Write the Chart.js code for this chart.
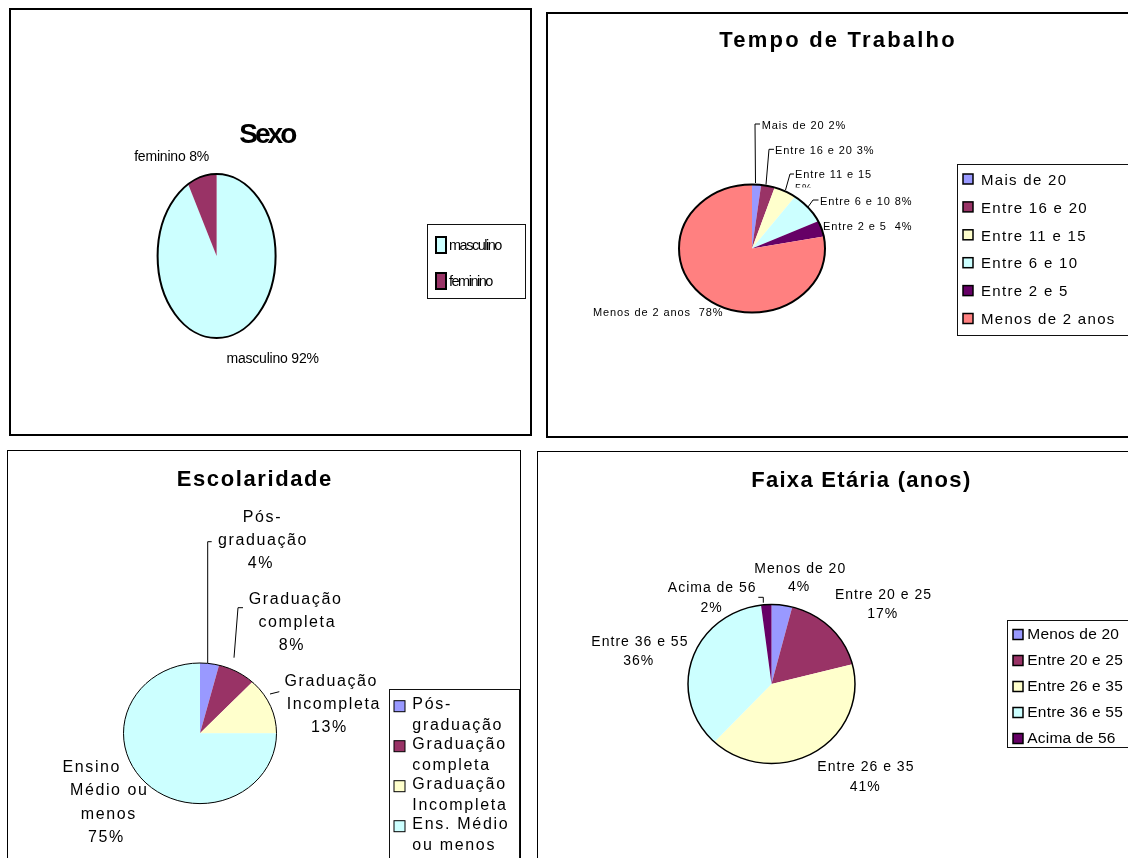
<!DOCTYPE html>
<html><head><meta charset="utf-8">
<script src="https://cdn.jsdelivr.net/npm/chart.js@4/dist/chart.umd.min.js"></script>
<style>
html,body{margin:0;padding:0;background:#fff;}
body{width:1128px;height:858px;position:relative;overflow:hidden;}
.panel{position:absolute;box-sizing:border-box;border-style:solid;border-color:#000;}
canvas{position:absolute;left:0;top:0;}
</style></head><body>
<div class="panel" style="left:9px;top:8px;width:523px;height:428px;border-width:2px"></div>
<div class="panel" style="left:546px;top:12px;width:620px;height:426px;border-width:2px"></div>
<div class="panel" style="left:7px;top:450px;width:514px;height:430px;border-width:1px"></div>
<div class="panel" style="left:537px;top:451px;width:620px;height:430px;border-width:1px"></div>
<canvas id="cSexo" width="1128" height="858"></canvas>
<canvas id="cTempo" width="1128" height="858"></canvas>
<canvas id="cEsc" width="1128" height="858"></canvas>
<canvas id="cFaixa" width="1128" height="858"></canvas>
<script>
// ---------------- DATA ----------------
const sexoCategories = ['masculino', 'feminino'];
const sexoValues = [92, 8];

const tempoCategories = ['Mais de 20', 'Entre 16 e 20', 'Entre 11 e 15', 'Entre 6 e 10', 'Entre 2 e 5', 'Menos de 2 anos'];
const tempoValues = [2, 3, 5, 8, 4, 78];

const escCategories = ['Pós-graduação', 'Graduação completa', 'Graduação Incompleta', 'Ens. Médio ou menos'];
const escSliceNames = [['Pós-', 'graduação'], ['Graduação', 'completa'], ['Graduação', 'Incompleta'], ['Ensino', 'Médio ou', 'menos']];
const escValues = [4, 8, 13, 75];

const faixaCategories = ['Menos de 20', 'Entre 20 e 25', 'Entre 26 e 35', 'Entre 36 e 55', 'Acima de 56'];
const faixaValues = [4, 17, 41, 36, 2];

// ---------------- STYLE ----------------
const C_BLUE = '#9999FF', C_PLUM = '#993366', C_YEL = '#FFFFCC', C_CYAN = '#CCFFFF', C_DPUR = '#660066', C_SAL = '#FF8080';
const sexoColors = [C_CYAN, C_PLUM];
const tempoColors = [C_BLUE, C_PLUM, C_YEL, C_CYAN, C_DPUR, C_SAL];
const escColors = [C_BLUE, C_PLUM, C_YEL, C_CYAN];
const faixaColors = [C_BLUE, C_PLUM, C_YEL, C_CYAN, C_DPUR];

const FAM = '"Liberation Sans", Arial, Helvetica, sans-serif';
const W = 1128, H = 858;
const pct = v => v + '%';

function drawText(ctx, s, x, y, size, sp, align, bold) {
  ctx.save();
  ctx.font = (bold ? 'bold ' : '') + size + 'px ' + FAM;
  ctx.fillStyle = '#000';
  ctx.textBaseline = 'alphabetic';
  ctx.textAlign = 'left';
  const hasLS = ('letterSpacing' in ctx);
  const chars = Array.from(s);
  let w, ws;
  if (hasLS) { ctx.letterSpacing = sp + 'px'; w = ctx.measureText(s).width - sp; }
  else { ws = chars.map(c => ctx.measureText(c).width); w = ws.reduce((a, b) => a + b, 0) + sp * (chars.length - 1); }
  const x0 = align === 'center' ? x - w / 2 : (align === 'right' ? x - w : x);
  if (hasLS) ctx.fillText(s, x0, y);
  else { let cx = x0; chars.forEach((c, i) => { ctx.fillText(c, cx, y); cx += ws[i] + sp; }); }
  if (hasLS) ctx.letterSpacing = '0px';
  ctx.restore();
}
function textWidth(ctx, s, size, sp) {
  ctx.save(); ctx.font = size + 'px ' + FAM;
  const w = Array.from(s).reduce((a, c) => a + ctx.measureText(c).width, 0) + sp * (s.length - 1);
  ctx.restore(); return w;
}
function wrap(ctx, s, maxW, size, sp) {
  if (!maxW) return [s];
  const toks = [];
  s.split(' ').forEach((w, i) => {
    const parts = w.split(/(?<=-)/);
    parts.forEach((p, j) => toks.push({ t: p, sep: (j === 0 && i > 0) ? ' ' : '' }));
  });
  const lines = []; let cur = '';
  toks.forEach(tk => {
    const cand = cur ? cur + tk.sep + tk.t : tk.t;
    if (cur && textWidth(ctx, cand, size, sp) > maxW) { lines.push(cur); cur = tk.t; }
    else cur = cand;
  });
  if (cur) lines.push(cur);
  return lines;
}

const ellipsePlugin = {
  id: 'ellipse',
  beforeDatasetsDraw(chart, args, o) {
    const a = chart.getDatasetMeta(0).data[0], ctx = chart.ctx;
    ctx.save(); ctx.translate(a.x, a.y); ctx.scale(o.sx, o.sy); ctx.translate(-a.x, -a.y);
  },
  afterDatasetsDraw(chart, args, o) {
    const a = chart.getDatasetMeta(0).data[0], ctx = chart.ctx;
    ctx.beginPath(); ctx.arc(a.x, a.y, a.outerRadius, 0, Math.PI * 2);
    ctx.restore();
    ctx.save(); ctx.lineWidth = o.outline; ctx.strokeStyle = '#000'; ctx.stroke(); ctx.restore();
  }
};

const annotPlugin = {
  id: 'annot',
  afterDraw(chart, args, o) {
    const ctx = chart.ctx, ds = chart.data.datasets[0];
    const t = o.title;
    drawText(ctx, t.text, t.x, t.y, t.size, t.sp, 'center', true);
    ctx.save(); ctx.strokeStyle = '#000'; ctx.lineWidth = 1;
    o.labels.forEach(l => {
      if (!l.leader) return;
      ctx.beginPath();
      l.leader.forEach((p, i) => i ? ctx.lineTo(p[0], p[1]) : ctx.moveTo(p[0], p[1]));
      ctx.stroke();
    });
    ctx.restore();
    o.labels.forEach(l => {
      l.lines.forEach((ln, j) => {
        const x = (l.xs && l.xs[j] !== undefined) ? l.xs[j] : l.x;
        const y = l.y + j * (l.lh || 0);
        if (l.clipY !== undefined && j > 0) {
          ctx.save(); ctx.beginPath(); ctx.rect(0, 0, W, l.clipY); ctx.clip();
          drawText(ctx, ln, x, y, o.labelSize, o.labelSp, l.align || 'center');
          ctx.restore();
        } else drawText(ctx, ln, x, y, o.labelSize, o.labelSp, l.align || 'center');
      });
    });
    const lg = o.legend;
    ctx.save(); ctx.strokeStyle = '#111'; ctx.lineWidth = 1;
    ctx.strokeRect(lg.x, lg.y, lg.w, lg.h); ctx.restore();
    chart.data.labels.forEach((name, i) => {
      const iy = lg.iconY + i * lg.pitch;
      ctx.save();
      ctx.fillStyle = ds.backgroundColor[i]; ctx.fillRect(lg.iconX, iy, lg.iconW, lg.iconH);
      ctx.lineWidth = lg.iconBorder; ctx.strokeStyle = '#000'; ctx.strokeRect(lg.iconX, iy, lg.iconW, lg.iconH);
      ctx.restore();
      wrap(ctx, name, lg.maxW, lg.size, lg.sp).forEach((tx, k) =>
        drawText(ctx, tx, lg.textX, lg.textY + i * lg.pitch + k * (lg.lineH || 0), lg.size, lg.sp, 'left'));
    });
  }
};

function padFor(cx, cy) {
  return {
    left: cx < W / 2 ? 0 : 2 * cx - W, right: cx < W / 2 ? W - 2 * cx : 0,
    top: cy < H / 2 ? 0 : 2 * cy - H, bottom: cy < H / 2 ? H - 2 * cy : 0
  };
}
function makePie(id, labels, values, colors, geo, annot) {
  return new Chart(document.getElementById(id), {
    type: 'pie',
    data: { labels: labels, datasets: [{ data: values, backgroundColor: colors, borderWidth: 0 }] },
    options: {
      responsive: false, animation: false, events: [], devicePixelRatio: 1,
      radius: geo.r,
      layout: { padding: padFor(geo.cx, geo.cy) },
      plugins: {
        legend: { display: false }, title: { display: false }, tooltip: { enabled: false },
        ellipse: { sx: geo.sx, sy: 1, outline: geo.outline },
        annot: annot
      }
    },
    plugins: [ellipsePlugin, annotPlugin]
  });
}

// ---- Sexo ----
makePie('cSexo', sexoCategories, sexoValues, sexoColors,
  { cx: 216.6, cy: 256, r: 82, sx: 59 / 82, outline: 2 },
  {
    title: { text: 'Sexo', x: 268.3, y: 143, size: 28, sp: -3 },
    labelSize: 14, labelSp: -0.2,
    labels: [
      { lines: [sexoCategories[1] + ' ' + pct(sexoValues[1])], x: 171.7, y: 160.7 },
      { lines: [sexoCategories[0] + ' ' + pct(sexoValues[0])], x: 272.7, y: 363.3 }
    ],
    legend: { x: 427.5, y: 224.5, w: 98, h: 74, iconX: 436, iconY: 237, iconW: 10, iconH: 16, iconBorder: 2,
      pitch: 36, textX: 449, textY: 249.5, size: 14.5, sp: -1.5 }
  });

// ---- Tempo de Trabalho ----
makePie('cTempo', tempoCategories, tempoValues, tempoColors,
  { cx: 752, cy: 248.5, r: 64, sx: 73 / 64, outline: 2 },
  {
    title: { text: 'Tempo de Trabalho', x: 837, y: 47.3, size: 22, sp: 2.2 },
    labelSize: 11, labelSp: 0.9,
    labels: [
      { lines: [tempoCategories[0] + ' ' + pct(tempoValues[0])], x: 761.7, y: 128.7, align: 'left',
        leader: [[760, 124], [755, 124], [755.5, 183]] },
      { lines: [tempoCategories[1] + ' ' + pct(tempoValues[1])], x: 775, y: 153.7, align: 'left',
        leader: [[774, 149.3], [769, 149.3], [766, 184.5]] },
      { lines: [tempoCategories[2], pct(tempoValues[2])], x: 795, y: 178.3, lh: 13.5, clipY: 187.5, align: 'left',
        leader: [[794, 174], [790, 174], [785.5, 190]] },
      { lines: [tempoCategories[3] + ' ' + pct(tempoValues[3])], x: 820, y: 204.7, align: 'left',
        leader: [[818.5, 200], [813, 200], [808, 207]] },
      { lines: [tempoCategories[4] + '  ' + pct(tempoValues[4])], x: 823, y: 230.3, align: 'left' },
      { lines: [tempoCategories[5] + '  ' + pct(tempoValues[5])], x: 593, y: 316, align: 'left' }
    ],
    legend: { x: 957.5, y: 164.5, w: 300, h: 171, iconX: 963, iconY: 174, iconW: 10, iconH: 10, iconBorder: 1.5,
      pitch: 27.9, textX: 981, textY: 184.7, size: 15, sp: 1.3 }
  });

// ---- Escolaridade ----
makePie('cEsc', escCategories, escValues, escColors,
  { cx: 200, cy: 733.3, r: 70.3, sx: 76.5 / 70.3, outline: 1 },
  {
    title: { text: 'Escolaridade', x: 254, y: 485.7, size: 22, sp: 1.6 },
    labelSize: 16, labelSp: 1.6,
    labels: [
      { lines: [...escSliceNames[0], pct(escValues[0])], xs: [261.7, 262.2, 260], y: 522.3, lh: 22.9,
        leader: [[211.7, 541.7], [207.7, 541.7], [207.7, 663]] },
      { lines: [...escSliceNames[1], pct(escValues[1])], xs: [294.8, 296.5, 291], y: 604.3, lh: 22.9,
        leader: [[243, 607.7], [238, 607.7], [234, 657.7]] },
      { lines: [...escSliceNames[2], pct(escValues[2])], xs: [330.5, 333, 328.7], y: 685.7, lh: 23.3,
        leader: [[279.3, 691.7], [270, 694]] },
      { lines: [...escSliceNames[3], pct(escValues[3])], xs: [91, 108.5, 108, 105.5], y: 772.3, lh: 23.1 }
    ],
    legend: { x: 389.5, y: 689.5, w: 130, h: 300, iconX: 394, iconY: 700.7, iconW: 11, iconH: 11, iconBorder: 1,
      pitch: 40, textX: 412.3, textY: 709.3, lineH: 20.7, size: 16, sp: 1.7, maxW: 105 }
  });

// ---- Faixa Etária ----
makePie('cFaixa', faixaCategories, faixaValues, faixaColors,
  { cx: 771.5, cy: 684, r: 79.5, sx: 83.5 / 79.5, outline: 1.5 },
  {
    title: { text: 'Faixa Etária (anos)', x: 860.7, y: 486.7, size: 22, sp: 1.3 },
    labelSize: 14, labelSp: 1,
    labels: [
      { lines: [faixaCategories[0], pct(faixaValues[0])], xs: [799.7, 798.7], y: 572.7, lh: 18.5 },
      { lines: [faixaCategories[1], pct(faixaValues[1])], xs: [883, 882.3], y: 598.7, lh: 19 },
      { lines: [faixaCategories[2], pct(faixaValues[2])], xs: [865.4, 864.8], y: 771, lh: 20 },
      { lines: [faixaCategories[3], pct(faixaValues[3])], xs: [639.4, 638.3], y: 646, lh: 19 },
      { lines: [faixaCategories[4], pct(faixaValues[4])], xs: [711.7, 711], y: 591.7, lh: 20,
        leader: [[758.3, 597.3], [763.3, 597.3], [763.3, 602.7]] }
    ],
    legend: { x: 1007.5, y: 620.5, w: 200, h: 127, iconX: 1013, iconY: 629.5, iconW: 10, iconH: 10, iconBorder: 1.5,
      pitch: 26, textX: 1027.3, textY: 638.5, size: 15.5, sp: 0.2 }
  });
</script>
</body></html>
